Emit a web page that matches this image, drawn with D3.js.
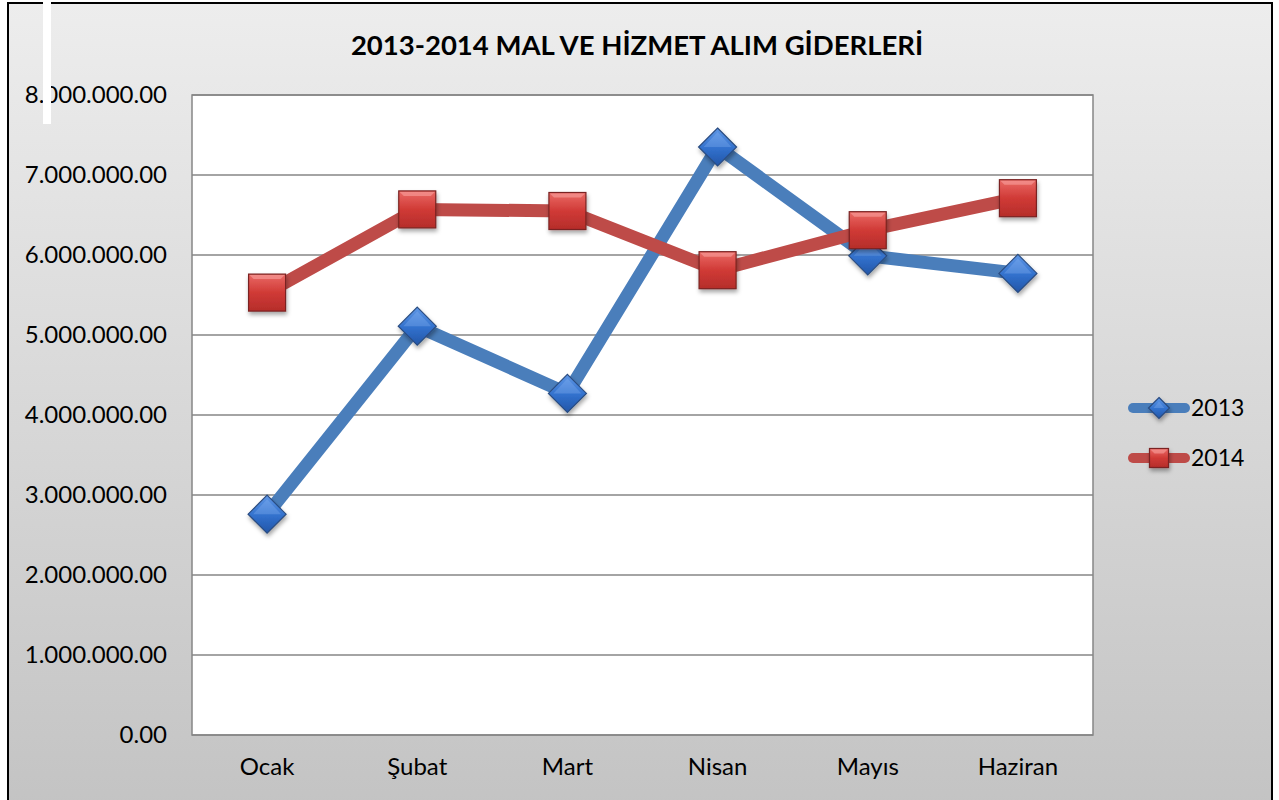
<!DOCTYPE html>
<html>
<head>
<meta charset="utf-8">
<script src="https://cdn.jsdelivr.net/npm/d3@7"></script>
<style>
  html, body { margin: 0; padding: 0; background: #fff; overflow: hidden; }
  text { font-family: Lato, "Open Sans", sans-serif; fill: #000; }
</style>
</head>
<body>
<svg id="chart" width="1279" height="800"></svg>
<script>
const months = ["Ocak", "Şubat", "Mart", "Nisan", "Mayıs", "Haziran"];
const values2013 = [2760000, 5110000, 4270000, 7350000, 5990000, 5770000];
const values2014 = [5530000, 6570000, 6550000, 5810000, 6310000, 6710000];
const yTicks = [0, 1000000, 2000000, 3000000, 4000000, 5000000, 6000000, 7000000, 8000000];
const seriesNames = ["2013", "2014"];

const width = 1279, height = 800;
const svg = d3.select("#chart");
const defs = svg.append("defs");

// background gradient
const bg = defs.append("linearGradient").attr("id", "bg").attr("x1", 0).attr("y1", 0).attr("x2", 0).attr("y2", 1);
bg.append("stop").attr("offset", "0%").attr("stop-color", "#ededed");
bg.append("stop").attr("offset", "100%").attr("stop-color", "#c3c3c3");

const blueGrad = defs.append("linearGradient").attr("id", "blueG").attr("x1", 0).attr("y1", 0).attr("x2", 0).attr("y2", 1);
blueGrad.append("stop").attr("offset", "0%").attr("stop-color", "#5f97e6");
blueGrad.append("stop").attr("offset", "55%").attr("stop-color", "#3170cc");
blueGrad.append("stop").attr("offset", "100%").attr("stop-color", "#2356a8");

const redGrad = defs.append("linearGradient").attr("id", "redG").attr("x1", 0).attr("y1", 0).attr("x2", 0).attr("y2", 1);
redGrad.append("stop").attr("offset", "0%").attr("stop-color", "#ea6a66");
redGrad.append("stop").attr("offset", "50%").attr("stop-color", "#d03a36");
redGrad.append("stop").attr("offset", "100%").attr("stop-color", "#b52d2a");

const shadow = defs.append("filter").attr("id", "shadow").attr("x", "-50%").attr("y", "-50%").attr("width", "200%").attr("height", "200%");
shadow.append("feDropShadow").attr("dx", 1).attr("dy", 3).attr("stdDeviation", 2).attr("flood-color", "#000").attr("flood-opacity", 0.35);

svg.append("rect").attr("x", 0).attr("y", 0).attr("width", width).attr("height", height).attr("fill", "#fff");
svg.append("rect").attr("x", 8).attr("y", 3).attr("width", 1264).attr("height", 810)
  .attr("fill", "url(#bg)").attr("stroke", "#000").attr("stroke-width", 2);

const margin = { left: 192, right: 1093, top: 95, bottom: 735 };

const x = d3.scaleBand().domain(months).range([margin.left, margin.right]);
const y = d3.scaleLinear().domain([0, 8000000]).range([margin.bottom, margin.top]);

// plot area
svg.append("rect").attr("x", margin.left).attr("y", margin.top)
  .attr("width", margin.right - margin.left).attr("height", margin.bottom - margin.top)
  .attr("fill", "#fff").attr("stroke", "#868686").attr("stroke-width", 1.5);

const fmt = v => d3.format(",.2f")(v).replace(/,/g, ".");

// gridlines
svg.append("g").selectAll("line").data(yTicks).join("line")
  .attr("x1", margin.left).attr("x2", margin.right)
  .attr("y1", d => y(d)).attr("y2", d => y(d))
  .attr("stroke", "#868686").attr("stroke-width", 1.5);

// y axis labels
const yAxis = d3.axisLeft(y).tickValues(yTicks).tickSize(0).tickPadding(25).tickFormat(fmt);
svg.append("g").attr("transform", `translate(${margin.left},0)`).call(yAxis)
  .call(g => g.select(".domain").remove())
  .selectAll("text").attr("font-size", 24).style("font-family", "Lato, sans-serif").attr("fill", "#000");

// x axis labels
const xAxis = d3.axisBottom(x).tickSize(0).tickPadding(23);
svg.append("g").attr("transform", `translate(0,${margin.bottom})`).call(xAxis)
  .call(g => g.select(".domain").remove())
  .selectAll("text").attr("font-size", 24).style("font-family", "Lato, sans-serif").attr("fill", "#000");

// title
svg.append("text").attr("x", 637).attr("y", 55).attr("text-anchor", "middle")
  .attr("font-size", 27.5).attr("font-weight", "bold").text("2013-2014 MAL VE HİZMET ALIM GİDERLERİ");

const line = d3.line().x((d, i) => x(months[i]) + x.bandwidth() / 2).y(d => y(d));
const series = [
  { name: seriesNames[0], values: values2013, color: "#4a7ebb", fill: "url(#blueG)", stroke: "#2a4c80", shape: "diamond" },
  { name: seriesNames[1], values: values2014, color: "#be4b48", fill: "url(#redG)", stroke: "#7a2320", shape: "square" }
];

function marker(g, s, cx, cy, size) {
  if (s.shape === "diamond") {
    const r = size;
    g.append("path").attr("d", `M${cx},${cy - r}L${cx + r},${cy}L${cx},${cy + r}L${cx - r},${cy}Z`)
      .attr("fill", s.fill).attr("stroke", s.stroke).attr("stroke-width", 1.2).attr("filter", "url(#shadow)");
    g.append("path").attr("d", `M${cx},${cy - r + 4}L${cx + r - 5},${cy}L${cx - r + 5},${cy}Z`)
      .attr("fill", "#8fbaf5").attr("opacity", 0.3);
  } else {
    const h = size;
    g.append("rect").attr("x", cx - h).attr("y", cy - h).attr("width", 2 * h).attr("height", 2 * h)
      .attr("fill", s.fill).attr("stroke", s.stroke).attr("stroke-width", 1.2).attr("filter", "url(#shadow)");
    g.append("path").attr("d", `M${cx - h + 1},${cy - h + 1}L${cx + h - 1},${cy - h + 1}L${cx + h - 5},${cy - h + 5}L${cx - h + 5},${cy - h + 5}Z`)
      .attr("fill", "#f8a09c").attr("opacity", 0.6);
  }
}

series.forEach(s => {
  svg.append("path").datum(s.values).attr("d", line)
    .attr("fill", "none").attr("stroke", s.color).attr("stroke-width", 13)
    .attr("stroke-linejoin", "round");
});
series.forEach(s => {
  const g = svg.append("g");
  s.values.forEach((v, i) => {
    marker(g, s, x(months[i]) + x.bandwidth() / 2, y(v), s.shape === "diamond" ? 19 : 18.5);
  });
});

// legend
const legend = svg.append("g");
series.forEach((s, i) => {
  const ly = 408 + i * 50;
  legend.append("line").attr("x1", 1133).attr("x2", 1185).attr("y1", ly).attr("y2", ly)
    .attr("stroke", s.color).attr("stroke-width", 10).attr("stroke-linecap", "round");
  marker(legend, s, 1159, ly, s.shape === "diamond" ? 10.5 : 9.5);
  legend.append("text").attr("x", 1191).attr("y", ly + 8).attr("font-size", 23).text(s.name);
});

// white bar at top-left
svg.append("rect").attr("x", 43).attr("y", 0).attr("width", 8).attr("height", 124).attr("fill", "#fff");
</script>
</body>
</html>
